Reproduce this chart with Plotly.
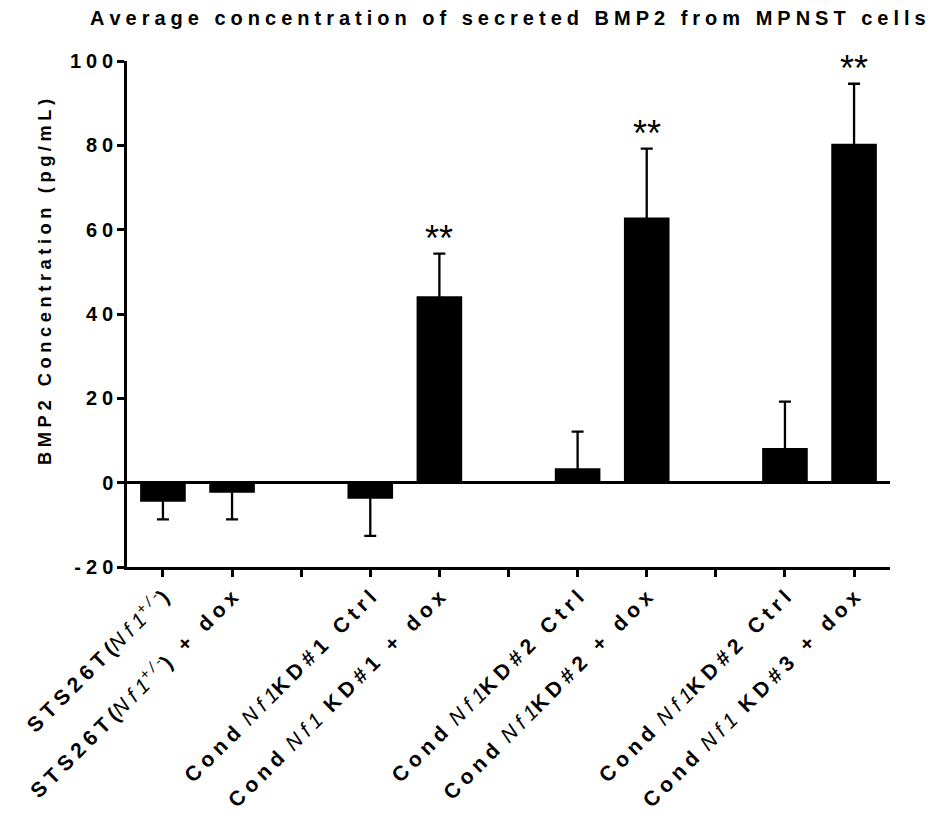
import re
import plotly.graph_objects as go

# ---- data ----
labels = [
    "STS26T(<span style='font-weight:normal'><i>Nf1</i><sup><i>+/-</i></sup></span>)",
    "STS26T(<span style='font-weight:normal'><i>Nf1</i><sup><i>+/-</i></sup></span>) + dox",
    "Cond <span style='font-weight:normal'><i>Nf1</i></span>KD#1 Ctrl",
    "Cond <span style='font-weight:normal'><i>Nf1</i></span> KD#1 + dox",
    "Cond <span style='font-weight:normal'><i>Nf1</i></span>KD#2 Ctrl",
    "Cond <span style='font-weight:normal'><i>Nf1</i></span>KD#2 + dox",
    "Cond <span style='font-weight:normal'><i>Nf1</i></span>KD#2 Ctrl",
    "Cond <span style='font-weight:normal'><i>Nf1</i></span> KD#3 + dox",
]
means = [-4.5, -2.4, -3.8, 44.2, 3.4, 62.9, 8.2, 80.4]
sem = [4.2, 6.3, 8.8, 10.1, 8.7, 16.3, 11.0, 14.2]
significance = ["", "", "", "**", "", "**", "", "**"]
y_ticks = [-20, 0, 20, 40, 60, 80, 100]

title_text = "Average concentration of secreted BMP2 from MPNST cells"
y_title = "BMP2 Concentration (pg/mL)"

THIN = "\u2009"
MID = "\u2005"


def spaced(s, gap=THIN):
    parts = re.split(r"(<[^>]+>)", s)
    out = []
    for p in parts:
        if p.startswith("<"):
            out.append(p)
        else:
            out.append(gap.join(p))
    return "".join(out)


# bars come in pairs, with an empty slot between pairs
n = len(means)
xpos = [i + i // 2 for i in range(n)]
n_slots = xpos[-1] + 1
tickvals = list(range(n_slots))
ticktext = [""] * n_slots
for p, lab in zip(xpos, labels):
    ticktext[p] = spaced(lab, MID)

# error bars point away from zero; the inward half is kept inside the (black) bar
err_plus = [e if m >= 0 else abs(m) / 2 for m, e in zip(means, sem)]
err_minus = [m / 2 if m >= 0 else e for m, e in zip(means, sem)]

FONT = "Liberation Sans, Arial, sans-serif"
W, H = 926, 812

fig = go.Figure()
fig.add_trace(go.Bar(
    x=xpos, y=means, width=0.66,
    marker=dict(color="black", line=dict(width=0)),
    error_y=dict(type="data", symmetric=False, array=err_plus, arrayminus=err_minus,
                 color="black", thickness=2.3, width=6),
    showlegend=False,
))

for p, m, e, s in zip(xpos, means, sem, significance):
    if s:
        fig.add_annotation(x=p, y=m + e, text=s, showarrow=False, yanchor="bottom",
                           yshift=-7, font=dict(family=FONT, size=36, color="black"))

fig.add_annotation(
    text=spaced(y_title, MID), textangle=-90, xref="paper", yref="paper",
    x=-0.109, y=0.563, xanchor="center", yanchor="middle", showarrow=False,
    font=dict(family=FONT, size=18.3, color="black", weight="bold"),
)

fig.update_layout(
    width=W, height=H,
    margin=dict(l=119, r=44, t=53, b=253, autoexpand=False),
    plot_bgcolor="white", paper_bgcolor="white",
    title=dict(text=spaced(title_text, MID), x=82 / W, xref="container", xanchor="left",
               y=1 - 10 / H, yref="container", yanchor="middle",
               font=dict(family=FONT, size=20, color="black", weight="bold")),
    font=dict(family=FONT, color="black"),
)
fig.update_xaxes(
    range=[-0.52, n_slots - 1 + 0.52], tickmode="array", tickvals=tickvals, ticktext=ticktext,
    tickangle=-45, ticks="outside", ticklen=7, tickwidth=2.5, tickcolor="black",
    showline=True, linewidth=2.5, linecolor="black", showgrid=False, zeroline=False,
    automargin=False, ticklabeloverflow="allow",
    tickfont=dict(family=FONT, size=21, color="black", weight="bold"),
)
fig.update_yaxes(
    range=[-20, 100], tickmode="array", tickvals=y_ticks, ticktext=[spaced(str(v), MID) for v in y_ticks],
    ticks="outside", ticklen=7, tickwidth=2.5, tickcolor="black",
    showline=True, linewidth=2.5, linecolor="black", showgrid=False,
    zeroline=True, zerolinewidth=2.5, zerolinecolor="black", automargin=False,
    tickfont=dict(family=FONT, size=20, color="black", weight="bold"),
)

fig.write_html("out.html")
